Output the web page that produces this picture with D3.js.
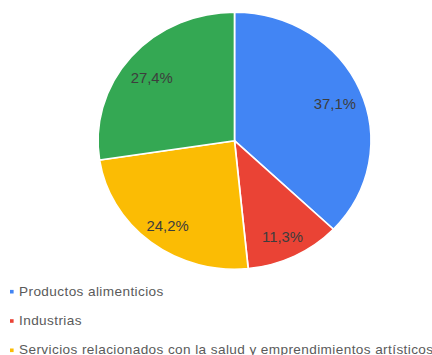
<!DOCTYPE html>
<html>
<head>
<meta charset="utf-8">
<script src="https://cdn.jsdelivr.net/npm/d3@7"></script>
<style>
  html, body { margin: 0; padding: 0; background: #fff; }
  svg { display: block; }
  text { font-family: "Liberation Sans", Arial, sans-serif; }
</style>
</head>
<body>
<svg id="chart" width="432" height="355"></svg>
<script>
// Share of each activity sector (percent)
const categories = [
  "Productos alimenticios",
  "Industrias",
  "Servicios relacionados con la salud y emprendimientos artísticos",
  "Comercio"
];
const values = [37.1, 11.3, 24.2, 27.4];
const colors = ["#4285f4", "#ea4335", "#fbbc04", "#34a853"];
// Only the first three categories appear in the visible legend
const legendCount = 3;

const cx = 234.5, cy = 140.7;
const radius = 128.5;
const stretch = 1.062; // horizontal aspect of the whole drawing

const svg = d3.select("#chart");

const data = categories.map((c, i) => ({ name: c, value: values[i], color: colors[i] }));

const pie = d3.pie().value(d => d.value).sort(null);
const arc = d3.arc().innerRadius(0).outerRadius(radius);
const labelArc = d3.arc().innerRadius(radius * 0.8).outerRadius(radius * 0.8);

const g = svg.append("g")
  .attr("transform", `translate(${cx},${cy}) scale(${stretch},1)`);

const arcs = pie(data);

g.selectAll("path.slice")
  .data(arcs)
  .join("path")
  .attr("class", "slice")
  .attr("d", arc)
  .attr("fill", d => d.data.color)
  .attr("stroke", "#fff")
  .attr("stroke-width", 1.6);

const fmt = v => v.toFixed(1).replace(".", ",") + "%";

g.selectAll("text.pct")
  .data(arcs)
  .join("text")
  .attr("class", "pct")
  .attr("transform", d => {
    const [x, y] = labelArc.centroid(d);
    return `translate(${x},${y + 4})`;
  })
  .attr("text-anchor", "middle")
  .attr("dy", "0.36em")
  .attr("font-size", 14)
  .attr("fill", "#3d3d3d")
  .text(d => fmt(d.data.value));

// Legend
const legend = svg.append("g")
  .attr("transform", `scale(${stretch},1)`);

const legendY = d3.scaleLinear().domain([0, 1]).range([295.7, 325]);

const items = legend.selectAll("g.item")
  .data(data.slice(0, legendCount))
  .join("g")
  .attr("class", "item")
  .attr("transform", (d, i) => `translate(${10 / stretch},${legendY(i)})`);

items.append("rect")
  .attr("x", 0)
  .attr("y", -5.8)
  .attr("width", 3.4)
  .attr("height", 3.6)
  .attr("fill", d => d.color);

items.append("text")
  .attr("x", 8.5)
  .attr("y", 0)
  .attr("font-size", 12.8)
  .attr("letter-spacing", 0.38)
  .attr("fill", "#5a5a5a")
  .text(d => d.name);
</script>
</body>
</html>
